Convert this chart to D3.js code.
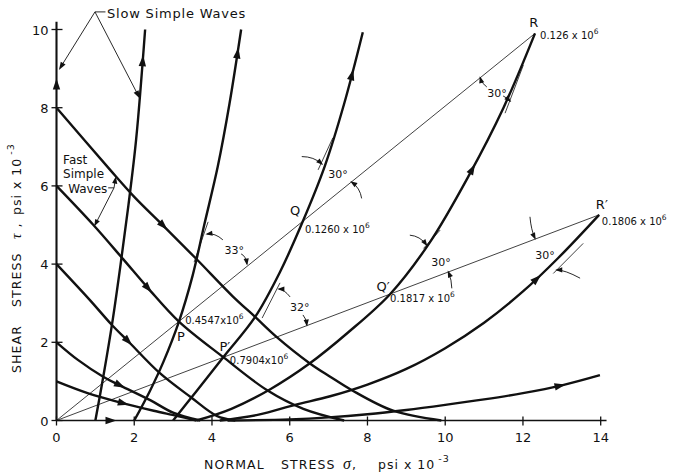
<!DOCTYPE html>
<html>
<head>
<meta charset="utf-8">
<title>Slow and fast simple waves</title>
<script src="https://d3js.org/d3.v7.min.js"></script>
<style>
  body { margin: 0; background: #fff; }
  text { font-family: "DejaVu Sans", sans-serif; fill: #111; }
</style>
</head>
<body>
<div id="chart"></div>
<script>
// ---- data (normal stress sigma, shear stress tau ; psi x 10^-3) ----
const xTicks = [0, 2, 4, 6, 8, 10, 12, 14];
const yTicks = [0, 2, 4, 6, 8, 10];

// fast simple waves, starting on the tau axis
const fastWave1 = [[0,1],[0.8,0.7],[1.72,0.44],[2.5,0.25],[3.09,0.12],[3.6,0]];
const fastWave2 = [[0,2],[0.55,1.55],[1.2,1.12],[1.63,0.9],[2.41,0.52],[3.0,0.2],[3.7,0]];
const fastWave4 = [[0,4],[0.86,3.08],[1.42,2.45],[1.85,2.02],[2.66,1.21],[3.45,0.6],[4.12,0.12],[4.6,0]];
const fastWave6 = [[0,6],[0.95,5.0],[1.72,4.12],[2.36,3.38],[3.15,2.53],[4.29,1.62],[5.41,0.78],[6.35,0.3],[7.4,0]];
const fastWave8 = [[0,8],[1.38,6.41],[2.0,5.72],[2.75,4.98],[3.6,4.13],[4.54,3.17],[5.11,2.65],[5.66,2.14],
                   [6.52,1.46],[7.04,1.12],[7.59,0.78],[8.66,0.25],[9.9,0]];

// slow simple waves, starting on the sigma axis
const slowWave0 = [[0,0],[0,10.2]];
const slowWaveAxis = [[0,0],[14.15,0]];
const slowWave1 = [[1,0],[1.2,1.1],[1.45,2.6],[1.65,4.0],[1.85,5.5],[2.05,7.2],[2.28,10]];
const slowWave2 = [[2,0],[2.4,0.75],[2.75,1.5],[3.15,2.53],[3.5,3.7],[3.8,5.0],[4.15,6.5],[4.45,8.1],[4.75,10]];
const slowWave3 = [[3,0],[3.6,0.75],[4.29,1.62],[5.11,2.65],[5.75,3.8],[6.34,5.1],[6.9,6.5],[7.4,8.1],[7.88,9.93]];
const slowWave4 = [[3.6,0],[4.5,0.3],[5.5,0.8],[6.5,1.45],[7.5,2.25],[8.58,3.23],[9.6,4.55],[10.6,6.25],[11.5,8.0],[12.31,9.9]];
const slowWave5 = [[4.2,0],[5.2,0.15],[6.14,0.4],[7.04,0.62],[8.0,0.92],[9.0,1.32],[10.0,1.85],[11.0,2.5],
                   [12.0,3.3],[12.9,4.15],[13.96,5.26]];
const slowWave6 = [[4.4,0],[6.0,0.03],[7.0,0.08],[8.0,0.16],[9.0,0.27],[10.0,0.4],[11.0,0.54],[12.0,0.7],[13.0,0.9],[13.98,1.16]];

// where the direction arrows sit on each wave
const fastArrowAt = [[1.72,0.44],[1.63,0.9],[1.85,2.02],[2.36,3.38],[2.75,4.98]];
const slowArrowAt = [[0,8.6],[1.4,0],[2.22,9.2],[4.68,9.4],[7.58,8.85],[10.68,6.45],[12.35,3.64],[12.95,0.9]];

// characteristic rays from the origin
const rayR = [[0,0],[12.31,9.9]];
const rayR2 = [[0,0],[13.96,5.26]];

// labelled points
const pointNames = ["P", "P\u2032", "Q", "Q\u2032", "R", "R\u2032"];
const pointValues = ["0.4547x10", "0.7904x10", "0.1260 x 10", "0.1817 x 10", "0.126 x 10", "0.1806 x 10"];
const pointNameAt = [[3.2,2.16],[4.33,1.91],[6.14,5.38],[8.40,3.44],[12.28,10.19],[14.03,5.54]];
const pointValueAt = [[3.31,2.57],[4.46,1.55],[6.39,4.9],[8.58,3.13],[12.44,9.86],[14.03,5.11]];

// angle marks
const angleText = ["33\u00b0", "32\u00b0", "30\u00b0", "30\u00b0", "30\u00b0", "30\u00b0"];
const angleTextAt = [[4.57,4.36],[6.26,2.90],[7.24,6.30],[11.33,8.38],[9.89,4.05],[12.57,4.23]];
const angleTangents = [
  [[3.54,4.05],[3.90,5.08]],
  [[5.29,2.62],[5.75,3.52]],
  [[6.73,6.41],[7.11,7.23]],
  [[11.54,7.86],[12.01,9.09]],
  [[9.44,4.40],[9.87,4.87]],
  [[12.78,3.76],[13.55,4.53]]
];
const angleArcs = [
  [[4.28,4.62],[4.08,4.80],[3.87,4.77]], [[4.75,4.26],[4.87,4.21],[4.90,4.0]],
  [[6.01,3.16],[5.85,3.36],[5.72,3.36]], [[6.34,2.70],[6.42,2.62],[6.44,2.44]],
  [[6.31,6.75],[6.62,6.75],[6.83,6.56]], [[7.85,5.68],[7.81,5.95],[7.59,6.10]],
  [[11.07,8.53],[10.95,8.60],[10.90,8.77]], [[11.49,8.30],[11.56,8.27],[11.67,8.17]],
  [[10.17,3.38],[10.17,3.59],[10.08,3.80]], [[9.09,4.74],[9.35,4.72],[9.52,4.49]],
  [[13.47,3.64],[13.08,3.85],[12.87,3.85]], [[12.18,5.21],[12.21,4.87],[12.31,4.66]]
];

// ---- drawing ----
const width = 673, height = 475;
const x = d3.scaleLinear().domain([0, 14]).range([56.5, 600.7]);
const y = d3.scaleLinear().domain([0, 10]).range([420.5, 29.5]);

const svg = d3.select("#chart").append("svg")
  .attr("width", width).attr("height", height);

const ink = "#111";
const line = d3.line().x(d => x(d[0])).y(d => y(d[1])).curve(d3.curveCatmullRom.alpha(0.5));
const straight = d3.line().x(d => x(d[0])).y(d => y(d[1]));

// rays
[rayR, rayR2].forEach(r => {
  svg.append("path").attr("d", straight(r))
    .attr("fill", "none").attr("stroke", ink).attr("stroke-width", 0.8);
});

// axes (the axes are also slow waves)
svg.append("path").attr("d", straight(slowWaveAxis))
  .attr("fill", "none").attr("stroke", ink).attr("stroke-width", 1.7);
svg.append("path").attr("d", straight(slowWave0))
  .attr("fill", "none").attr("stroke", ink).attr("stroke-width", 2.1);

svg.selectAll(".xt").data(xTicks).enter().append("line")
  .attr("x1", d => x(d)).attr("x2", d => x(d))
  .attr("y1", y(0) - 4).attr("y2", y(0) + 5)
  .attr("stroke", ink).attr("stroke-width", 1.3);
svg.selectAll(".yt").data(yTicks).enter().append("line")
  .attr("x1", x(0) - 5).attr("x2", x(0) + 6)
  .attr("y1", d => y(d)).attr("y2", d => y(d))
  .attr("stroke", ink).attr("stroke-width", 1.3);

svg.selectAll(".xl").data(xTicks).enter().append("text")
  .attr("x", d => x(d)).attr("y", y(0) + 21)
  .attr("text-anchor", "middle").attr("font-size", 13).text(d => d);
svg.selectAll(".yl").data(yTicks).enter().append("text")
  .attr("x", x(0) - 8).attr("y", d => y(d) + 5)
  .attr("text-anchor", "end").attr("font-size", 13).text(d => d);

// axis titles
const xt = svg.append("text").attr("y", 469).attr("font-size", 12.5).attr("letter-spacing", 1.1);
xt.append("tspan").attr("x", 204).text("NORMAL");
xt.append("tspan").attr("x", 281).text("STRESS");
xt.append("tspan").attr("x", 343).attr("font-style", "italic").attr("font-size", 16)
  .attr("font-family", "Liberation Serif, serif").text("\u03c3");
xt.append("tspan").text(",");
xt.append("tspan").attr("x", 378).attr("letter-spacing", 1).text("psi x 10");
xt.append("tspan").attr("font-size", 9.5).attr("dy", -7).attr("dx", 3).text("-3");

const yt = svg.append("text").attr("transform", `translate(21,373) rotate(-90)`)
  .attr("font-size", 12.5).attr("letter-spacing", 1.1);
yt.append("tspan").attr("x", 0).text("SHEAR");
yt.append("tspan").attr("x", 66).text("STRESS");
yt.append("tspan").attr("x", 134).attr("font-style", "italic").attr("font-size", 15)
  .attr("font-family", "Liberation Serif, serif").text("\u03c4");
yt.append("tspan").text(" ,");
yt.append("tspan").attr("x", 158).attr("letter-spacing", 1).text("psi x 10");
yt.append("tspan").attr("font-size", 9.5).attr("dy", -7).attr("dx", 3).text("-3");

// waves
const fastWaves = [fastWave1, fastWave2, fastWave4, fastWave6, fastWave8];
const slowWaves = [slowWave1, slowWave2, slowWave3, slowWave4, slowWave5, slowWave6];

const wavePaths = [];
fastWaves.concat(slowWaves).forEach(w => {
  const p = svg.append("path").attr("d", line(w))
    .attr("fill", "none").attr("stroke", ink).attr("stroke-width", 2.4)
    .attr("stroke-linejoin", "round");
  wavePaths.push(p);
});

function head(px, py, ang, len, half) {
  svg.append("path")
    .attr("d", `M${len / 2},0 L${-len / 2},${half} L${-len / 2},${-half} Z`)
    .attr("transform", `translate(${px},${py}) rotate(${ang * 180 / Math.PI})`)
    .attr("fill", ink);
}

function arrowOnPath(node, target) {
  const L = node.getTotalLength();
  const tx = x(target[0]), ty = y(target[1]);
  let best = 0, bd = Infinity;
  for (let l = 0; l <= L; l += 0.5) {
    const p = node.getPointAtLength(l);
    const d = (p.x - tx) ** 2 + (p.y - ty) ** 2;
    if (d < bd) { bd = d; best = l; }
  }
  const p0 = node.getPointAtLength(Math.max(0, best - 3));
  const p1 = node.getPointAtLength(Math.min(L, best + 3));
  const p = node.getPointAtLength(best);
  head(p.x, p.y, Math.atan2(p1.y - p0.y, p1.x - p0.x), 11, 3.7);
}

// measuring paths for arrows on axes
const axisPathX = svg.append("path").attr("d", straight(slowWaveAxis)).attr("stroke", "none").attr("fill", "none");
const axisPathY = svg.append("path").attr("d", straight(slowWave0)).attr("stroke", "none").attr("fill", "none");

fastArrowAt.forEach((a, i) => arrowOnPath(wavePaths[i].node(), a));
arrowOnPath(axisPathY.node(), slowArrowAt[0]);
arrowOnPath(axisPathX.node(), slowArrowAt[1]);
slowArrowAt.slice(2).forEach((a, i) => arrowOnPath(wavePaths[fastWaves.length + i].node(), a));

// angle marks
angleTangents.forEach(t => {
  svg.append("path").attr("d", straight(t))
    .attr("fill", "none").attr("stroke", ink).attr("stroke-width", 0.8);
});
angleArcs.forEach(a => {
  const [s, c, e] = a.map(d => [x(d[0]), y(d[1])]);
  const ang = Math.atan2(e[1] - c[1], e[0] - c[0]);
  svg.append("path").attr("d", `M${s[0]},${s[1]} Q${c[0]},${c[1]} ${e[0]},${e[1]}`)
    .attr("fill", "none").attr("stroke", ink).attr("stroke-width", 0.9);
  head(e[0] - 2 * Math.cos(ang), e[1] - 2 * Math.sin(ang), ang, 7, 2.6);
});
svg.selectAll(".ang").data(angleText).enter().append("text")
  .attr("x", (d, i) => x(angleTextAt[i][0])).attr("y", (d, i) => y(angleTextAt[i][1]) + 4)
  .attr("text-anchor", "middle").attr("font-size", 11).text(d => d);

// point labels
svg.selectAll(".pn").data(pointNames).enter().append("text")
  .attr("x", (d, i) => x(pointNameAt[i][0])).attr("y", (d, i) => y(pointNameAt[i][1]) + 5)
  .attr("text-anchor", "middle").attr("font-size", 13).text(d => d);
pointValues.forEach((v, i) => {
  const t = svg.append("text")
    .attr("x", x(pointValueAt[i][0])).attr("y", y(pointValueAt[i][1]) + 4)
    .attr("font-size", 10);
  t.append("tspan").text(v);
  t.append("tspan").attr("font-size", 7.5).attr("dy", -5).text("6");
});

// "Slow Simple Waves" callout
const slowNote = [1.30, 10.42];
const slowLeader = [[0.99,10.45],[1.26,10.45]];
const slowTargets = [[0.09,9.01],[2.12,8.28]];
svg.append("text").attr("x", x(slowNote[0])).attr("y", y(slowNote[1]) + 5)
  .attr("font-size", 13).attr("letter-spacing", 0.8).text("Slow  Simple  Waves");
svg.append("path").attr("d", straight(slowLeader)).attr("stroke", ink).attr("stroke-width", 0.9);
slowTargets.forEach(t => {
  const sx = x(slowLeader[0][0]), sy = y(slowLeader[0][1]);
  const ex = x(t[0]), ey = y(t[1]);
  const ang = Math.atan2(ey - sy, ex - sx);
  svg.append("line").attr("x1", sx).attr("y1", sy).attr("x2", ex).attr("y2", ey)
    .attr("stroke", ink).attr("stroke-width", 0.9);
  head(ex - 2 * Math.cos(ang), ey - 2 * Math.sin(ang), ang, 8, 2.8);
});

// "Fast Simple Waves" callout
const fastNoteLines = ["Fast", "Simple", "Waves"];
const fastNoteAt = [[0.17,6.56],[0.17,6.20],[0.30,5.82]];
const fastLeader = [[1.33,5.95],[1.48,5.95]];
const fastTargets = [[1.52,6.2],[0.99,5.0]];
svg.selectAll(".fn").data(fastNoteLines).enter().append("text")
  .attr("x", (d, i) => x(fastNoteAt[i][0])).attr("y", (d, i) => y(fastNoteAt[i][1]))
  .attr("font-size", 12).text(d => d);
svg.append("path").attr("d", straight(fastLeader)).attr("stroke", ink).attr("stroke-width", 0.9);
fastTargets.forEach(t => {
  const sx = x(fastLeader[1][0]), sy = y(fastLeader[1][1]);
  const ex = x(t[0]), ey = y(t[1]);
  const ang = Math.atan2(ey - sy, ex - sx);
  svg.append("line").attr("x1", sx).attr("y1", sy).attr("x2", ex).attr("y2", ey)
    .attr("stroke", ink).attr("stroke-width", 0.9);
  head(ex - 2 * Math.cos(ang), ey - 2 * Math.sin(ang), ang, 7, 2.6);
});
</script>
</body>
</html>
